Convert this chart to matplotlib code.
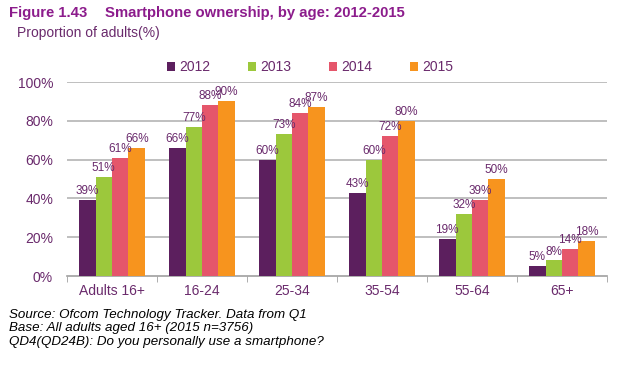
import numpy as np
import matplotlib
matplotlib.use('Agg')
import matplotlib.pyplot as plt

#Data
ages=['Adults 16+','16-24','25-34','35-54','55-64','65+']
years=['2012','2013','2014','2015']
v2012=[39,66,60,43,19,5]
v2013=[51,77,73,60,32,8]
v2014=[61,88,84,72,39,14]
v2015=[66,90,87,80,50,18]
yticks=[0,20,40,60,80,100]

colors=['#5c1f5e','#9cc83c','#e5566b','#f7941e']
purple='#6a2a6c'
title_col='#8c1c8c'

plt.rcParams['font.family']=['Liberation Sans','DejaVu Sans']

fig=plt.figure(figsize=(6.35,3.65),dpi=100)
ax=fig.add_axes([67/635,1-276/365,540/635,194/365])

x=np.arange(len(ages))
w=0.183
series=[v2012,v2013,v2014,v2015]
for i,(vals,yr) in enumerate(zip(series,years)):
    pos=x+(i-1.5)*w
    ax.bar(pos,vals,width=w,color=colors[i],label=yr,zorder=3)
    for p,v in zip(pos,vals):
        ax.text(p,v+1.5,'%d%%'%v,ha='center',va='bottom',fontsize=8.5,color=purple,zorder=4)

ax.set_xlim(-0.5,len(ages)-0.5)
ax.set_ylim(0,100)
ax.set_yticks(yticks)
ax.set_yticklabels(['%d%%'%t for t in yticks],fontsize=10,color=purple)
ax.set_xticks(x)
ax.set_xticklabels(ages,fontsize=10,color=purple)
ax.tick_params(axis='x',length=0,pad=6)
ax.tick_params(axis='y',length=0,pad=10)
ax.set_xticks(np.arange(-0.5,len(ages),1),minor=True)
ax.tick_params(axis='x',which='minor',length=4,color='#a0a0a0',direction='out')
for t in yticks[1:]:
    ax.axhline(t,color='#b4b4b4',lw=1.2,zorder=1)
for s in ['top','right','left']:
    ax.spines[s].set_visible(False)
ax.spines['bottom'].set_color('#a0a0a0')
ax.spines['bottom'].set_linewidth(1.2)

leg=fig.legend(loc='center',bbox_to_anchor=(310/635,1-67/365),ncol=4,frameon=False,
               fontsize=10,handlelength=0.6,handleheight=0.6,handletextpad=0.3,columnspacing=2.7)
for t in leg.get_texts():
    t.set_color(purple)

fig.text(9/635,1-13/365,'Figure 1.43',fontsize=10.7,fontweight='bold',color=title_col,va='center')
fig.text(105/635,1-13/365,'Smartphone ownership, by age: 2012-2015',fontsize=10.7,fontweight='bold',color=title_col,va='center')
fig.text(17/635,1-33/365,'Proportion of adults(%)',fontsize=10,color=purple,va='center')

foot=['Source: Ofcom Technology Tracker. Data from Q1',
      'Base: All adults aged 16+ (2015 n=3756)',
      'QD4(QD24B): Do you personally use a smartphone?']
for i,l in enumerate(foot):
    fig.text(9/635,1-(315+i*13.5)/365,l,fontsize=9.6,style='italic',color='black',va='center')

fig.savefig('out.png',dpi=100)
